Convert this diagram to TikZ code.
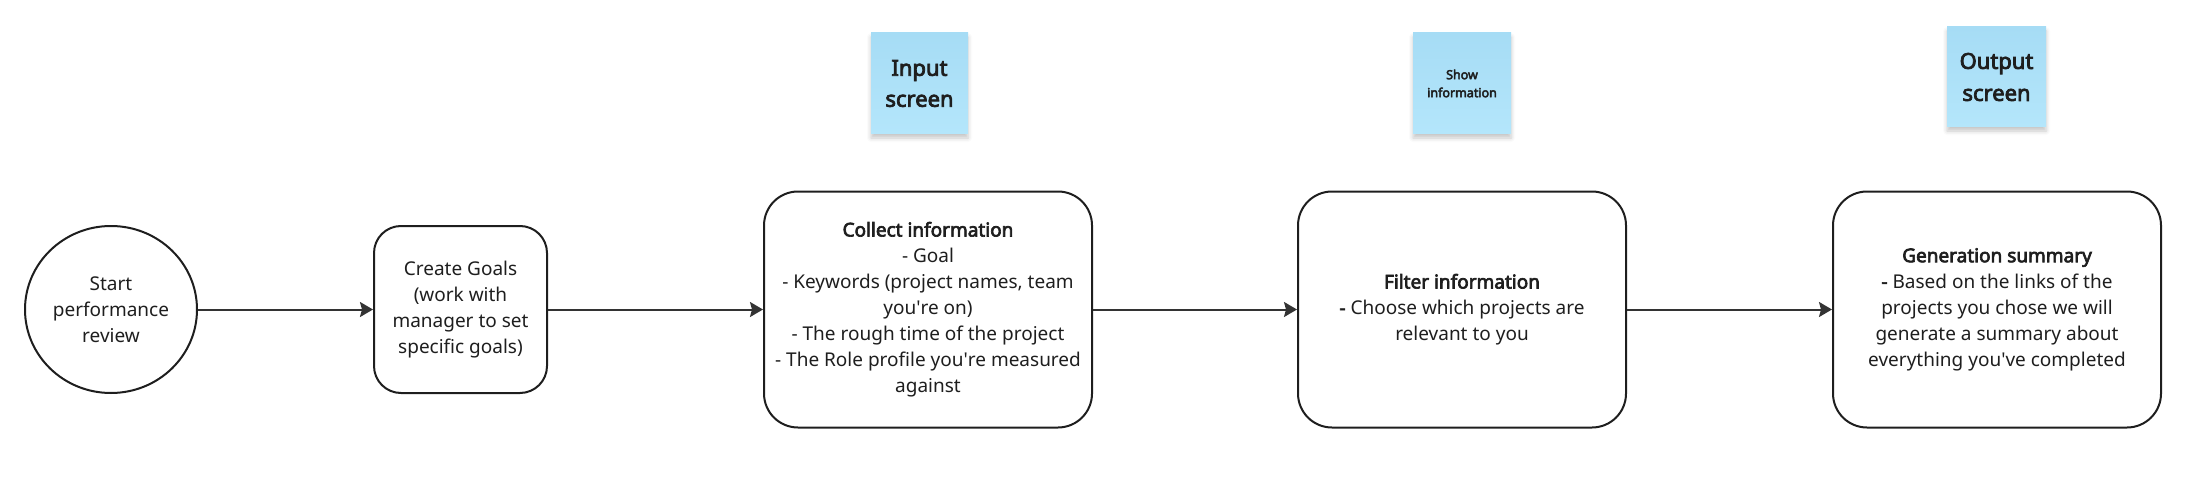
\documentclass[tikz,border=0pt]{standalone}
\usepackage{fontspec}
\setmainfont{Noto Sans}[BoldFont={Noto Sans},BoldFeatures={FakeBold=3.5}]
\usetikzlibrary{arrows.meta,shapes.geometric,shadows.blur}
\definecolor{ink}{HTML}{1E1E1E}
\definecolor{linec}{HTML}{333333}
\definecolor{stickytop}{HTML}{A6DCF5}
\definecolor{stickybot}{HTML}{B4E6FB}
\newcommand{\aq}{\textquotesingle}
\tikzset{
  boxtext/.style={align=center, text=ink, font=\fontsize{19}{26}\selectfont},
  procbox/.style={boxtext, draw=ink, line width=2pt, rounded corners=34pt, minimum width=328pt, minimum height=236pt, inner sep=0pt},
  smallbox/.style={boxtext, draw=ink, line width=2pt, rounded corners=27pt, minimum width=173pt, minimum height=167pt, inner sep=0pt},
  startnode/.style={boxtext, draw=ink, line width=2pt, ellipse, minimum width=172pt, minimum height=167pt, inner sep=0pt},
  sticky/.style={align=center, text=ink, top color=stickytop, bottom color=stickybot, draw=none, inner sep=0pt,
    blur shadow={shadow xshift=0pt, shadow yshift=-4pt, shadow blur radius=4pt, shadow opacity=22}},
  arr/.style={draw=linec, line width=2pt, -{Stealth[length=13pt,width=15pt,inset=2pt]}}
}
\begin{document}
\begin{tikzpicture}[x=1pt,y=-1pt]
\useasboundingbox (0,0) rectangle (2210,484);
\node[startnode] (start) at (111,309.5) {Start\\performance\\review};
\node[smallbox] (goals) at (460.5,309.5) {Create Goals\\(work with\\manager to set\\specific goals)};
\node[procbox] (collect) at (928,309.5) {\textbf{Collect information}\\- Goal\\- Keywords (project names, team\\you\aq{}re on)\\- The rough time of the project\\- The Role profile you\aq{}re measured\\against};
\node[procbox] (filter) at (1462,309.5) {\textbf{Filter information}\\\textbf{-} Choose which projects are\\relevant to you};
\node[procbox] (gen) at (1997,309.5) {\textbf{Generation summary}\\\textbf{-} Based on the links of the\\projects you chose we will\\generate a summary about\\everything you\aq{}ve completed};
\node[sticky, minimum width=97pt, minimum height=101pt, font=\fontsize{22}{31}\selectfont\bfseries] (input) at (919.5,83.5) {Input\\screen};
\node[sticky, minimum width=98pt, minimum height=101pt, font=\fontsize{12.5}{18}\selectfont\bfseries] (show) at (1462,83.5) {Show\\information};
\node[sticky, minimum width=99pt, minimum height=100pt, font=\fontsize{22}{32}\selectfont\bfseries] (output) at (1996.5,77) {Output\\screen};
\draw[arr] (start) -- (goals);
\draw[arr] (goals) -- (collect);
\draw[arr] (collect) -- (filter);
\draw[arr] (filter) -- (gen);
\end{tikzpicture}
\end{document}
